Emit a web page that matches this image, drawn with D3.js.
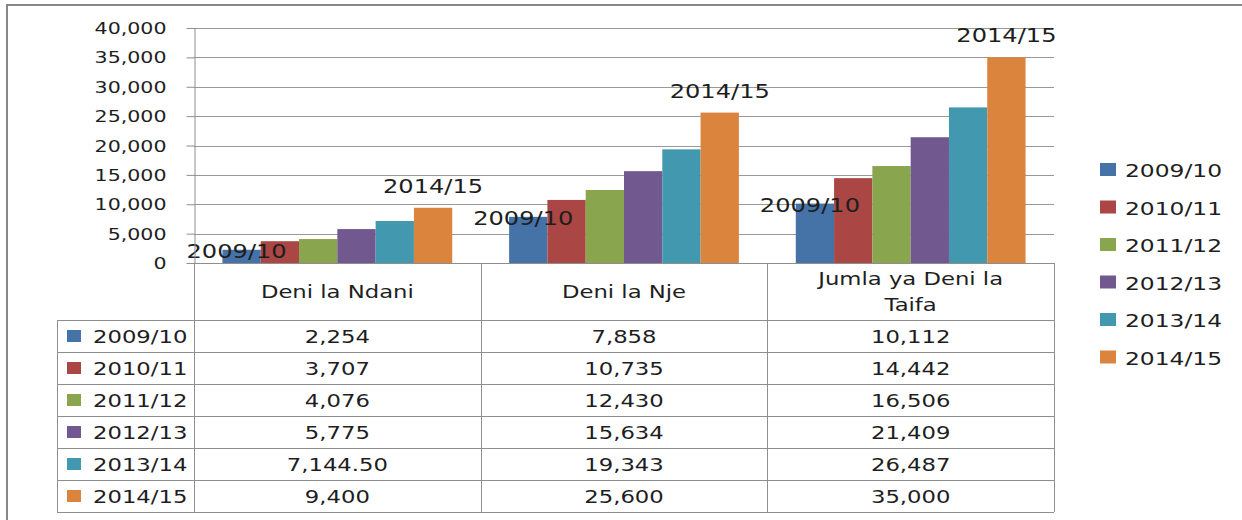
<!DOCTYPE html>
<html lang="sw">
<head>
<meta charset="UTF-8"/>
<title>Deni la Taifa</title>
<script src="https://d3js.org/d3.v7.min.js"></script>
<style>
    body { margin: 0; background: #fff; }
    text { font-family: "DejaVu Sans", sans-serif; fill: #1e1e1e; }
    .grid { stroke: #999; stroke-width: 1; }
    .tbl { stroke: #8e8e8e; stroke-width: 1; fill: none; }
</style>
</head>
<body>
<div id="chart"></div>
<script>
    // data
    var categories = ["Deni la Ndani", "Deni la Nje", "Jumla ya Deni la Taifa"];
    var years = ["2009/10", "2010/11", "2011/12", "2012/13", "2013/14", "2014/15"];
    var deniNdani = [2254, 3707, 4076, 5775, 7144.5, 9400];
    var deniNje = [7858, 10735, 12430, 15634, 19343, 25600];
    var jumlaDeni = [10112, 14442, 16506, 21409, 26487, 35000];
    var yTicks = [0, 5000, 10000, 15000, 20000, 25000, 30000, 35000, 40000];
    var colors = ["#4572A7", "#AA4643", "#89A54E", "#71588F", "#4198AF", "#DB843D"];
    var labelled = ["2009/10", "2014/15"];

    var w = 1242, h = 520;
    var SX = 1.27; // the text in the picture is drawn wide
    var plotLeft = 194, plotRight = 1054, plotTop = 28, base = 263;
    var rowH = 32, headH = 57, tableLeft = 57;

    var svg = d3.select("#chart").append("svg")
        .attr("width", w).attr("height", h);

    // outer frame
    svg.append("rect")
        .attr("x", 7).attr("y", 5)
        .attr("width", w + 20).attr("height", h + 20)
        .attr("fill", "none").attr("stroke", "#888").attr("stroke-width", 2);

    function wide(sel, x, y) {
        return sel.attr("transform", `translate(${x},${y}) scale(${SX},1)`);
    }

    var values = years.map((y, i) => [deniNdani[i], deniNje[i], jumlaDeni[i]]);

    var xScale = d3.scaleBand().domain(categories).range([plotLeft, plotRight]);
    var sScale = d3.scaleBand().domain(years)
        .range([0, xScale.bandwidth()]).paddingOuter(0.743);
    var yScale = d3.scaleLinear().domain([0, 40000]).range([base, plotTop]);

    // gridlines
    svg.append("g").selectAll("line")
        .data(yTicks.filter(d => d > 0))
        .join("line")
        .attr("class", "grid")
        .attr("x1", plotLeft).attr("x2", plotRight)
        .attr("y1", d => Math.round(yScale(d)) + 0.5)
        .attr("y2", d => Math.round(yScale(d)) + 0.5);

    // bars
    var groups = svg.append("g").selectAll("g")
        .data(categories)
        .join("g")
        .attr("transform", d => `translate(${xScale(d)},0)`);
    groups.selectAll("rect")
        .data((c, ci) => years.map((y, i) => ({year: y, i: i, v: values[i][ci]})))
        .join("rect")
        .attr("x", d => sScale(d.year))
        .attr("width", sScale.bandwidth())
        .attr("y", d => yScale(d.v))
        .attr("height", d => base - yScale(d.v))
        .attr("fill", d => colors[d.i]);

    // data labels on first and last series
    groups.each(function(c, ci) {
        var g = d3.select(this);
        labelled.forEach(function(yr) {
            var i = years.indexOf(yr);
            var v = values[i][ci];
            var cx = sScale(yr) + sScale.bandwidth() / 2;
            var t = g.append("text").attr("text-anchor", "middle")
                .style("font-size", "19px").text(yr);
            if (i == 0) wide(t, cx - 5, yScale(v) + 8);
            else wide(t, cx, yScale(v) - 15);
        });
    });

    // y axis
    var yAxis = d3.axisLeft(yScale).tickValues(yTicks)
        .tickFormat(d3.format(",")).tickSizeInner(8).tickSizeOuter(0).tickPadding(20);
    var ag = svg.append("g")
        .attr("transform", `translate(${plotLeft + 0.5},0)`)
        .call(yAxis);
    ag.select(".domain").attr("stroke", "#8e8e8e");
    ag.selectAll(".tick line").attr("stroke", "#8e8e8e");
    ag.selectAll(".tick text")
        .attr("x", null).attr("dy", null)
        .style("font-size", "16.2px").style("font-family", "DejaVu Sans")
        .attr("fill", "#1e1e1e")
        .each(function() { wide(d3.select(this), -28, 5.5); });

    // data table
    var tableBottom = base + headH + rowH * years.length;
    var tbl = svg.append("g");
    tbl.append("line").attr("class", "tbl")
        .attr("x1", plotLeft).attr("x2", plotRight).attr("y1", base + 0.5).attr("y2", base + 0.5);
    categories.concat(["end"]).forEach(function(c, k) {
        var x = k < categories.length ? xScale(c) : plotRight;
        tbl.append("line").attr("class", "tbl")
            .attr("x1", Math.round(x) + 0.5).attr("x2", Math.round(x) + 0.5)
            .attr("y1", base).attr("y2", tableBottom);
    });
    tbl.append("line").attr("class", "tbl")
        .attr("x1", tableLeft + 0.5).attr("x2", tableLeft + 0.5)
        .attr("y1", base + headH).attr("y2", tableBottom);
    d3.range(years.length + 1).forEach(function(r) {
        var y = base + headH + r * rowH + 0.5;
        tbl.append("line").attr("class", "tbl")
            .attr("x1", tableLeft).attr("x2", plotRight).attr("y1", y).attr("y2", y);
    });

    // header text, wrapped to the column
    categories.forEach(function(c) {
        var words = c.split(" "), lines = [], cur = "";
        var probe = svg.append("text").style("font-size", "17.9px");
        words.forEach(function(wd) {
            var test = cur ? cur + " " + wd : wd;
            probe.text(test);
            if (probe.node().getComputedTextLength() * SX > 220 && cur) {
                lines.push(cur); cur = wd;
            } else cur = test;
        });
        lines.push(cur);
        probe.remove();
        var cx = xScale(c) + xScale.bandwidth() / 2;
        var y0 = base + headH / 2 + 6 - (lines.length - 1) * 13;
        lines.forEach(function(l, li) {
            wide(tbl.append("text").attr("text-anchor", "middle")
                .style("font-size", "17.9px").text(l), cx, y0 + li * 26);
        });
    });

    var fmt = d3.format(","), fmt2 = d3.format(",.2f");
    years.forEach(function(yr, i) {
        var cy = base + headH + i * rowH + rowH / 2;
        tbl.append("rect").attr("x", 67).attr("y", cy - 6)
            .attr("width", 14).attr("height", 12).attr("fill", colors[i]);
        wide(tbl.append("text").style("font-size", "17.9px").text(yr), 93, cy + 7);
        categories.forEach(function(c, ci) {
            var v = values[i][ci];
            wide(tbl.append("text").attr("text-anchor", "middle")
                .style("font-size", "17.9px").text(v % 1 ? fmt2(v) : fmt(v)),
                xScale(c) + xScale.bandwidth() / 2, cy + 7);
        });
    });

    // legend
    var legend = svg.append("g").attr("transform", "translate(1100,170)");
    years.forEach(function(yr, i) {
        var ly = i * 37.5;
        legend.append("rect").attr("x", 0).attr("y", ly - 7)
            .attr("width", 16).attr("height", 13).attr("fill", colors[i]);
        wide(legend.append("text").style("font-size", "18.4px").text(yr), 25, ly + 7);
    });
</script>
</body>
</html>
